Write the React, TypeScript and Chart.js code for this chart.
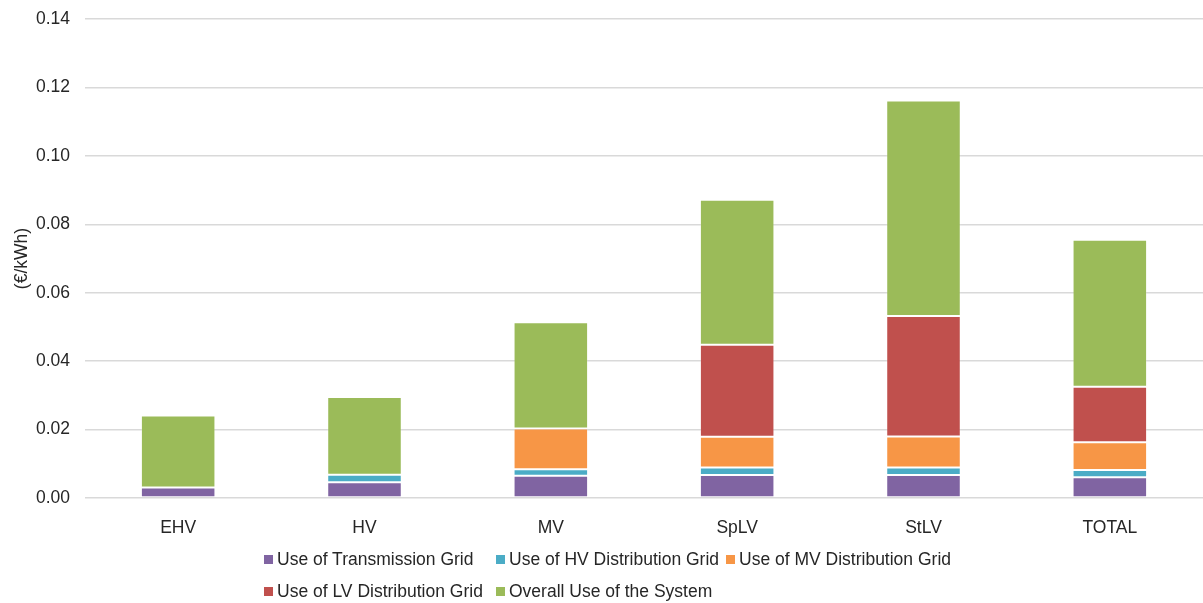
import React, { useEffect, useRef } from "react";
import { Chart, registerables } from "chart.js";

Chart.register(...registerables);

const categories = ["EHV", "HV", "MV", "SpLV", "StLV", "TOTAL"];
const transmission = [0.0031, 0.0046, 0.0065, 0.0067, 0.0067, 0.0061];
const hvDistribution = [0, 0.0022, 0.0019, 0.0022, 0.0022, 0.0021];
const mvDistribution = [0, 0, 0.0119, 0.009, 0.0091, 0.0081];
const lvDistribution = [0, 0, 0, 0.0269, 0.0352, 0.0162];
const overallSystem = [0.021, 0.0227, 0.0311, 0.0424, 0.063, 0.043];

const seriesNames = [
  "Use of Transmission Grid",
  "Use of HV Distribution Grid",
  "Use of MV Distribution Grid",
  "Use of LV Distribution Grid",
  "Overall Use of the System",
];
const seriesColors = ["#8064A2", "#4BACC6", "#F79646", "#C0504D", "#9BBB59"];
const yAxisTitle = "(€/kWh)";

const FONT = "'Liberation Sans', Arial, sans-serif";
const TEXT = "#262626";

const legendRows = [
  [0, 1, 2],
  [3, 4],
];
const legendColX = [264, 496, 726];
const legendRowY = [559, 591];

export default function App() {
  const ref = useRef<HTMLCanvasElement | null>(null);

  useEffect(() => {
    if (!ref.current) return;
    const values = [transmission, hvDistribution, mvDistribution, lvDistribution, overallSystem];
    const chart = new Chart(ref.current, {
      type: "bar",
      data: {
        labels: categories,
        datasets: values.map((d, i) => ({
          label: seriesNames[i],
          data: d,
          backgroundColor: seriesColors[i],
          borderColor: "rgba(255,255,255,0.18)",
          borderWidth: 1,
          borderSkipped: false,
          barPercentage: 0.4,
          categoryPercentage: 1,
        })),
      },
      options: {
        animation: false,
        responsive: false,
        maintainAspectRatio: false,
        layout: { padding: { top: 19, right: 0, bottom: 60, left: 0 } },
        plugins: {
          legend: { display: false },
          tooltip: { enabled: false },
        },
        scales: {
          x: {
            stacked: true,
            grid: { display: false },
            border: { display: false },
            ticks: {
              padding: 12,
              color: TEXT,
              font: { family: FONT, size: 17.5 },
            },
            afterFit: (s: any) => {
              s.height = 45;
              s.paddingLeft = 0;
              s.paddingRight = 0;
            },
          },
          y: {
            stacked: true,
            min: 0,
            max: 0.14,
            grid: { color: "#d9d9d9", lineWidth: 1.5, drawTicks: false },
            border: { display: false },
            ticks: {
              stepSize: 0.02,
              padding: 15,
              color: TEXT,
              font: { family: FONT, size: 17.5 },
              callback: (v: any) => Number(v).toFixed(2),
            },
            title: {
              display: true,
              text: yAxisTitle,
              color: TEXT,
              font: { family: FONT, size: 17.5 },
              padding: { top: 12, bottom: 0 },
            },
            afterFit: (s: any) => {
              s.width = 85;
              s.paddingTop = 0;
              s.paddingBottom = 0;
            },
          },
        },
      },
    });
    return () => chart.destroy();
  }, []);

  return (
    <div style={{ position: "absolute", left: 0, top: 0, width: 1203, height: 603, background: "#fff" }}>
      <canvas ref={ref} width={1203} height={603} style={{ display: "block", width: 1203, height: 603 }} />
      {legendRows.map((row, r) =>
        row.map((idx, c) => (
          <div
            key={idx}
            style={{
              position: "absolute",
              left: legendColX[c],
              top: legendRowY[r] - 12,
              height: 24,
              display: "flex",
              alignItems: "center",
              fontFamily: FONT,
              fontSize: 17.5,
              color: TEXT,
              whiteSpace: "nowrap",
            }}
          >
            <span
              style={{
                display: "inline-block",
                width: 9,
                height: 9,
                background: seriesColors[idx],
                marginRight: 4,
              }}
            />
            <span>{seriesNames[idx]}</span>
          </div>
        ))
      )}
    </div>
  );
}
